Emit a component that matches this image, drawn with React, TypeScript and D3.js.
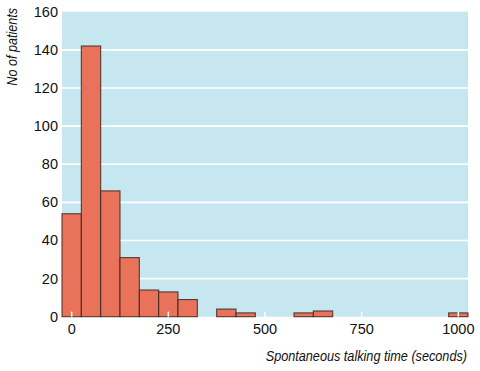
import React from "react";
import * as d3 from "d3";

const binStarts = [-25, 25, 75, 125, 175, 225, 275, 325, 375, 425, 475, 525, 575, 625, 675, 725, 775, 825, 875, 925, 975];
const counts = [54, 142, 66, 31, 14, 13, 9, 0, 4, 2, 0, 0, 2, 3, 0, 0, 0, 0, 0, 0, 2];
const binWidth = 50;
const xTicks = [0, 250, 500, 750, 1000];
const yTicks = [0, 20, 40, 60, 80, 100, 120, 140, 160];
const gridValues = [20, 40, 60, 80, 100, 120, 140];

const W = 480;
const H = 371;
const left = 62;
const right = 468;
const top = 11.7;
const bottom = 316.7;

export default function App() {
  const x = d3.scaleLinear().domain([-25, 1025]).range([left, right]);
  const y = d3.scaleLinear().domain([0, 160]).range([bottom, top]);
  const font = "'Liberation Sans', Arial, sans-serif";
  return (
    <svg width={W} height={H} style={{ position: "absolute", left: 0, top: 0 }}>
      <rect x={left} y={top} width={right - left} height={bottom - top} fill="#c6e7f0" />
      {gridValues.map((v) => (
        <line key={v} x1={left} x2={right} y1={y(v)} y2={y(v)} stroke="#ffffff" strokeWidth={1.6} />
      ))}
      {counts.map((c, i) =>
        c > 0 ? (
          <rect
            key={i}
            x={x(binStarts[i])}
            y={y(c)}
            width={x(binStarts[i] + binWidth) - x(binStarts[i])}
            height={bottom - y(c)}
            fill="#e8735a"
            stroke="#3b2620"
            strokeOpacity={0.85}
            strokeWidth={1.1}
          />
        ) : null
      )}
      {xTicks.map((t) => (
        <line key={t} x1={x(t)} x2={x(t)} y1={bottom} y2={bottom - 5} stroke="#ffffff" strokeWidth={1.5} />
      ))}
      {xTicks.map((t) => (
        <text key={t} x={x(t)} y={333.5} textAnchor="middle" fontFamily={font} fontSize={14.5} fill="#111">
          {t}
        </text>
      ))}
      {yTicks.map((t) => (
        <text key={t} x={58} y={y(t) + 5} textAnchor="end" fontFamily={font} fontSize={14.5} fill="#111">
          {t}
        </text>
      ))}
      <g transform="translate(16.5,8) rotate(-90) scale(0.9,1)">
        <text textAnchor="end" fontFamily={font} fontSize={14} fontStyle="italic" fill="#111">
          No of patients
        </text>
      </g>
      <g transform="translate(467,361) scale(0.905,1)">
        <text textAnchor="end" fontFamily={font} fontSize={14} fontStyle="italic" fill="#111">
          Spontaneous talking time (seconds)
        </text>
      </g>
    </svg>
  );
}
